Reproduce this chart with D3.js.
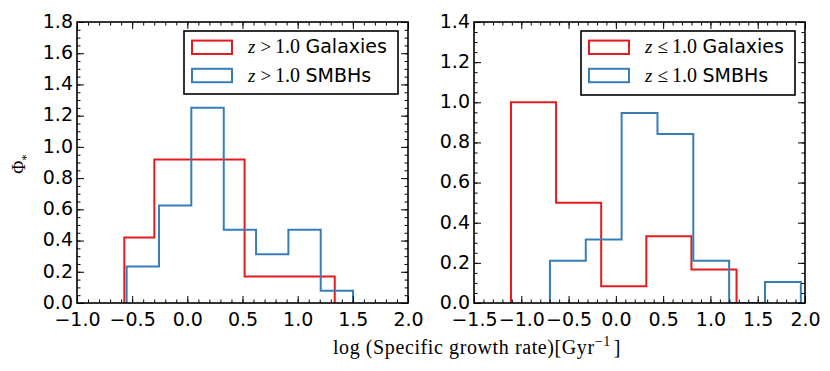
<!DOCTYPE html>
<html><head><meta charset="utf-8">
<script src="https://cdn.jsdelivr.net/npm/d3@7"></script>
<style>body{margin:0;background:#fff}svg{display:block}</style>
</head><body>
<svg id="c" width="830" height="371"></svg>
<script>
// ---- data ----
const leftGalEdges = [-0.571, -0.299, -0.026, 0.246, 0.519, 0.791, 1.064, 1.336];
const leftGalVals  = [0.42, 0.92, 0.92, 0.92, 0.17, 0.17, 0.17];
const leftBhEdges  = [-0.55, -0.257, 0.036, 0.33, 0.623, 0.916, 1.209, 1.502];
const leftBhVals   = [0.234, 0.625, 1.25, 0.469, 0.313, 0.469, 0.078];
const rightGalEdges = [-1.109, -0.632, -0.155, 0.322, 0.799, 1.276];
const rightGalVals  = [1.0, 0.5, 0.083, 0.333, 0.167];
const rightBhEdges  = [-0.697, -0.318, 0.061, 0.44, 0.819, 1.198, 1.577, 1.956];
const rightBhVals   = [0.211, 0.316, 0.947, 0.842, 0.211, 0, 0.105];
const leftXTicks  = [-1.0, -0.5, 0.0, 0.5, 1.0, 1.5, 2.0];
const leftYTicks  = [0.0, 0.2, 0.4, 0.6, 0.8, 1.0, 1.2, 1.4, 1.6, 1.8];
const rightXTicks = [-1.5, -1.0, -0.5, 0.0, 0.5, 1.0, 1.5, 2.0];
const rightYTicks = [0.0, 0.2, 0.4, 0.6, 0.8, 1.0, 1.2, 1.4];
const leftLegend  = [{rel: ">", name: "Galaxies"}, {rel: ">", name: "SMBHs"}];
const rightLegend = [{rel: "\u2264", name: "Galaxies"}, {rel: "\u2264", name: "SMBHs"}];
const RED = "#e41a1c", BLUE = "#377eb8";

const svg = d3.select("#c");
const fmt = d3.format(".1f");
const SANS = "DejaVu Sans, sans-serif";
const SERIF = "Liberation Serif, Times New Roman, serif";
const FS = 19;

function panel(o) {
  const x = d3.scaleLinear().domain(o.xDom).range([o.x0, o.x1]);
  const y = d3.scaleLinear().domain(o.yDom).range([o.y1, o.y0]);
  const g = svg.append("g");
  const clipId = "clip" + o.id;
  svg.append("clipPath").attr("id", clipId).append("rect")
    .attr("x", o.x0).attr("y", o.y0).attr("width", o.x1 - o.x0).attr("height", o.y1 - o.y0);

  const line = d3.line().x(d => x(d[0])).y(d => y(d[1]));
  function stepPts(edges, vals) {
    const p = [[edges[0], 0]];
    vals.forEach((v, i) => { p.push([edges[i], v]); p.push([edges[i + 1], v]); });
    p.push([edges[edges.length - 1], 0]);
    return p;
  }
  const hg = g.append("g").attr("clip-path", `url(#${clipId})`);
  hg.append("path").attr("d", line(stepPts(o.galEdges, o.galVals)))
    .attr("fill", "none").attr("stroke", RED).attr("stroke-width", 2);
  hg.append("path").attr("d", line(stepPts(o.bhEdges, o.bhVals)))
    .attr("fill", "none").attr("stroke", BLUE).attr("stroke-width", 2);

  // minor ticks
  const xMinor = d3.range(Math.round(o.xDom[0] * 10), Math.round(o.xDom[1] * 10) + 1).map(d => d / 10);
  const yMinor = d3.range(Math.round(o.yDom[0] * 20), Math.round(o.yDom[1] * 20) + 1).map(d => d / 20);
  const M = 7, m = 3.5;
  const axB = d3.axisBottom(x).tickValues(o.xTicks).tickFormat(fmt).tickSizeInner(-M).tickSizeOuter(0).tickPadding(10);
  const axL = d3.axisLeft(y).tickValues(o.yTicks).tickFormat(fmt).tickSizeInner(-M).tickSizeOuter(0).tickPadding(4);
  const axT = d3.axisTop(x).tickValues(o.xTicks).tickFormat("").tickSizeInner(-M).tickSizeOuter(0);
  const axR = d3.axisRight(y).tickValues(o.yTicks).tickFormat("").tickSizeInner(-M).tickSizeOuter(0);
  const mB = d3.axisBottom(x).tickValues(xMinor).tickFormat("").tickSizeInner(-m).tickSizeOuter(0);
  const mT = d3.axisTop(x).tickValues(xMinor).tickFormat("").tickSizeInner(-m).tickSizeOuter(0);
  const mL = d3.axisLeft(y).tickValues(yMinor).tickFormat("").tickSizeInner(-m).tickSizeOuter(0);
  const mR = d3.axisRight(y).tickValues(yMinor).tickFormat("").tickSizeInner(-m).tickSizeOuter(0);
  const put = (ax, tr) => {
    const a = g.append("g").attr("transform", tr).call(ax);
    a.select(".domain").remove();
    a.selectAll(".tick line").attr("stroke", "#000").attr("stroke-width", 1);
    a.selectAll("text").attr("font-family", SANS).attr("font-size", FS).attr("fill", "#000");
    return a;
  };
  put(mB, `translate(0,${o.y1})`); put(mT, `translate(0,${o.y0})`);
  put(mL, `translate(${o.x0},0)`); put(mR, `translate(${o.x1},0)`);
  put(axB, `translate(0,${o.y1})`); put(axT, `translate(0,${o.y0})`);
  const yl = put(axL, `translate(${o.x0},0)`); put(axR, `translate(${o.x1},0)`);
  yl.selectAll("text").attr("dy", "0.28em");

  g.append("rect").attr("x", o.x0).attr("y", o.y0).attr("width", o.x1 - o.x0).attr("height", o.y1 - o.y0)
    .attr("fill", "none").attr("stroke", "#000").attr("stroke-width", 1.6);

  // legend
  const L = o.leg;
  g.append("rect").attr("x", L.x).attr("y", L.y).attr("width", L.w).attr("height", L.h)
    .attr("fill", "#fff").attr("stroke", "#000").attr("stroke-width", 1.6);
  o.legend.forEach((d, i) => {
    const cy = L.y + 16.3 + i * 28.2;
    g.append("rect").attr("x", L.x + 8).attr("y", cy - 6.7).attr("width", 40).attr("height", 13.4)
      .attr("fill", "none").attr("stroke", i === 0 ? RED : BLUE).attr("stroke-width", 2);
    const by = cy + 6;
    g.append("text").attr("x", L.x + 64).attr("y", by).attr("font-family", SERIF).attr("font-style", "italic")
      .attr("font-size", 19).text("z");
    g.append("text").attr("x", L.x + 76.5).attr("y", by).attr("font-family", SERIF)
      .attr("font-size", 19).text(d.rel);
    g.append("text").attr("x", L.x + 91).attr("y", by).attr("font-family", SERIF)
      .attr("font-size", 20).text("1.0");
    g.append("text").attr("x", L.x + 121.5).attr("y", by).attr("font-family", SANS)
      .attr("font-size", FS).text(d.name);
  });
}

panel({id: "L", xDom: [-1, 2], yDom: [0, 1.8], x0: 77, x1: 408, y0: 22, y1: 303,
  galEdges: leftGalEdges, galVals: leftGalVals, bhEdges: leftBhEdges, bhVals: leftBhVals,
  xTicks: leftXTicks, yTicks: leftYTicks, legend: leftLegend,
  leg: {x: 184, y: 31, w: 214, h: 63}});
panel({id: "R", xDom: [-1.5, 2], yDom: [0, 1.4], x0: 474, x1: 805, y0: 22, y1: 303,
  galEdges: rightGalEdges, galVals: rightGalVals, bhEdges: rightBhEdges, bhVals: rightBhVals,
  xTicks: rightXTicks, yTicks: rightYTicks, legend: rightLegend,
  leg: {x: 581, y: 31, w: 214, h: 64}});

// axis labels
const yl = svg.append("text").attr("transform", "translate(25,164) rotate(-90)")
  .attr("text-anchor", "middle").attr("font-family", SERIF).attr("font-size", 18).attr("fill", "#000");
yl.append("tspan").text("\u03A6");
yl.append("tspan").attr("dy", 5).attr("font-size", 13).text("*");

const xl = svg.append("text").attr("x", 477).attr("y", 354).attr("text-anchor", "middle")
  .attr("font-family", SERIF).attr("font-size", 20).attr("letter-spacing", 0.6).attr("fill", "#000");
xl.append("tspan").text("log (Specific growth rate)[Gyr");
xl.append("tspan").attr("dy", -8).attr("font-size", 14).text("\u22121");
xl.append("tspan").attr("dy", 8).attr("dx", 3).text("]");
</script>
</body></html>
